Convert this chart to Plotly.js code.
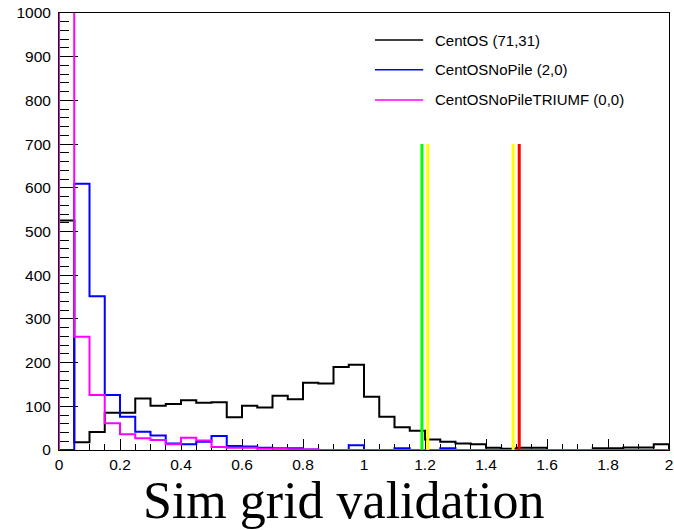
<!DOCTYPE html>
<html>
<head>
<meta charset="utf-8">
<script src="https://cdn.plot.ly/plotly-3.0.1.min.js"></script>
<style>
html,body{margin:0;padding:0;background:#fff;}
#chart{width:674px;height:530px;}
</style>
</head>
<body>
<div id="chart"></div>
<script>
// Histogram binning: 40 bins from 0 to 2
const binLow = 0;
const binWidth = 0.05;

// Bin contents
const centos = [525,18,41,85,85,118,101,105,114,108,
                109,75,101,97,124,116,154,152,190,195,
                122,76,52,44,24,19,15,13,5,3,
                5,5,0,0,0,4,4,6,6,13];
const centosNoPile = [0,609,352,126,76,42,33,15,13,19,
                      32,9,8,5,4,4,1,0,0,11,
                      0,0,4,0,0,4,0,0,0,0,
                      0,0,0,0,0,0,0,0,0,0];
const centosNoPileTRIUMF = [1500,259,126,61,36,27,23,13,28,22,
                            7,5,5,3,3,2,1,0,0,0,
                            0,0,0,0,0,0,0,0,0,0,
                            0,0,0,0,0,0,0,0,0,0];

const seriesNames = ["CentOS (71,31)", "CentOSNoPile (2,0)", "CentOSNoPileTRIUMF (0,0)"];
const seriesColors = ["#000000", "#0000ff", "#ff00ff"];

// Vertical marker lines
const markerX = [1.19, 1.209, 1.489, 1.509];
const markerTop = [700, 700, 700, 700];
const markerColors = ["#00ff00", "#ffff00", "#ffff00", "#ff0000"];

const yTickVals = [0,100,200,300,400,500,600,700,800,900,1000];
const xTickVals = [0,0.2,0.4,0.6,0.8,1,1.2,1.4,1.6,1.8,2];

function stepTrace(vals, color) {
  const xs = [binLow];
  const ys = [0];
  for (let i = 0; i < vals.length; i++) {
    xs.push(binLow + i * binWidth);
    ys.push(vals[i]);
  }
  const xEnd = binLow + vals.length * binWidth;
  xs.push(xEnd); ys.push(vals[vals.length - 1]);
  xs.push(xEnd); ys.push(0);
  return {
    x: xs, y: ys, type: 'scatter', mode: 'lines',
    line: {shape: 'hv', color: color, width: 2},
    showlegend: false, hoverinfo: 'skip'
  };
}

const traces = [
  stepTrace(centos, seriesColors[0]),
  stepTrace(centosNoPile, seriesColors[1]),
  stepTrace(centosNoPileTRIUMF, seriesColors[2])
];
for (let i = 0; i < markerX.length; i++) {
  traces.push({
    x: [markerX[i], markerX[i]], y: [0, markerTop[i]],
    type: 'scatter', mode: 'lines',
    line: {color: markerColors[i], width: 3},
    showlegend: false, hoverinfo: 'skip'
  });
}

// Manual legend (paper coords)
const legY = [0.938, 0.870, 0.801];
const shapes = [];
const annotations = [];
for (let i = 0; i < seriesNames.length; i++) {
  shapes.push({type: 'line', xref: 'paper', yref: 'paper',
    x0: 0.518, x1: 0.597, y0: legY[i], y1: legY[i],
    line: {color: seriesColors[i], width: 1.5}});
  annotations.push({xref: 'paper', yref: 'paper', x: 0.613, y: legY[i],
    xanchor: 'left', yanchor: 'middle', showarrow: false,
    text: seriesNames[i],
    font: {family: 'Liberation Sans, Arial, sans-serif', size: 15, color: '#000'}});
}
annotations.push({xref: 'paper', yref: 'paper', x: 0.467, y: -0.046,
  xanchor: 'center', yanchor: 'top', showarrow: false,
  text: 'Sim grid validation',
  font: {family: 'Liberation Serif, Times New Roman, serif', size: 52, color: '#000'}});

const tickFont = {family: 'Liberation Sans, Arial, sans-serif', size: 15.5, color: '#000'};

const layout = {
  width: 674, height: 530,
  margin: {l: 59, r: 5, t: 13, b: 80, pad: 0},
  paper_bgcolor: '#fff', plot_bgcolor: '#fff',
  showlegend: false,
  xaxis: {
    range: [0, 2], tickvals: xTickVals, ticks: 'inside', ticklen: 11, tickcolor: '#000',
    tickwidth: 1, showgrid: false, zeroline: false, showline: true, mirror: true,
    linecolor: '#000', linewidth: 1, tickfont: tickFont, layer: 'below traces',
    minor: {dtick: 0.05, ticks: 'inside', ticklen: 6, tickcolor: '#000', showgrid: false}
  },
  yaxis: {
    range: [0, 1000], tickvals: yTickVals, ticks: 'inside', ticklen: 19, tickcolor: '#000',
    tickwidth: 1, showgrid: false, zeroline: false, showline: true, mirror: true,
    linecolor: '#000', linewidth: 1, tickfont: tickFont, layer: 'below traces',
    ticklabelstandoff: 4,
    minor: {dtick: 20, ticks: 'inside', ticklen: 10, tickcolor: '#000', showgrid: false}
  },
  shapes: shapes,
  annotations: annotations
};

Plotly.newPlot('chart', traces, layout, {displayModeBar: false, staticPlot: true});
</script>
</body>
</html>
